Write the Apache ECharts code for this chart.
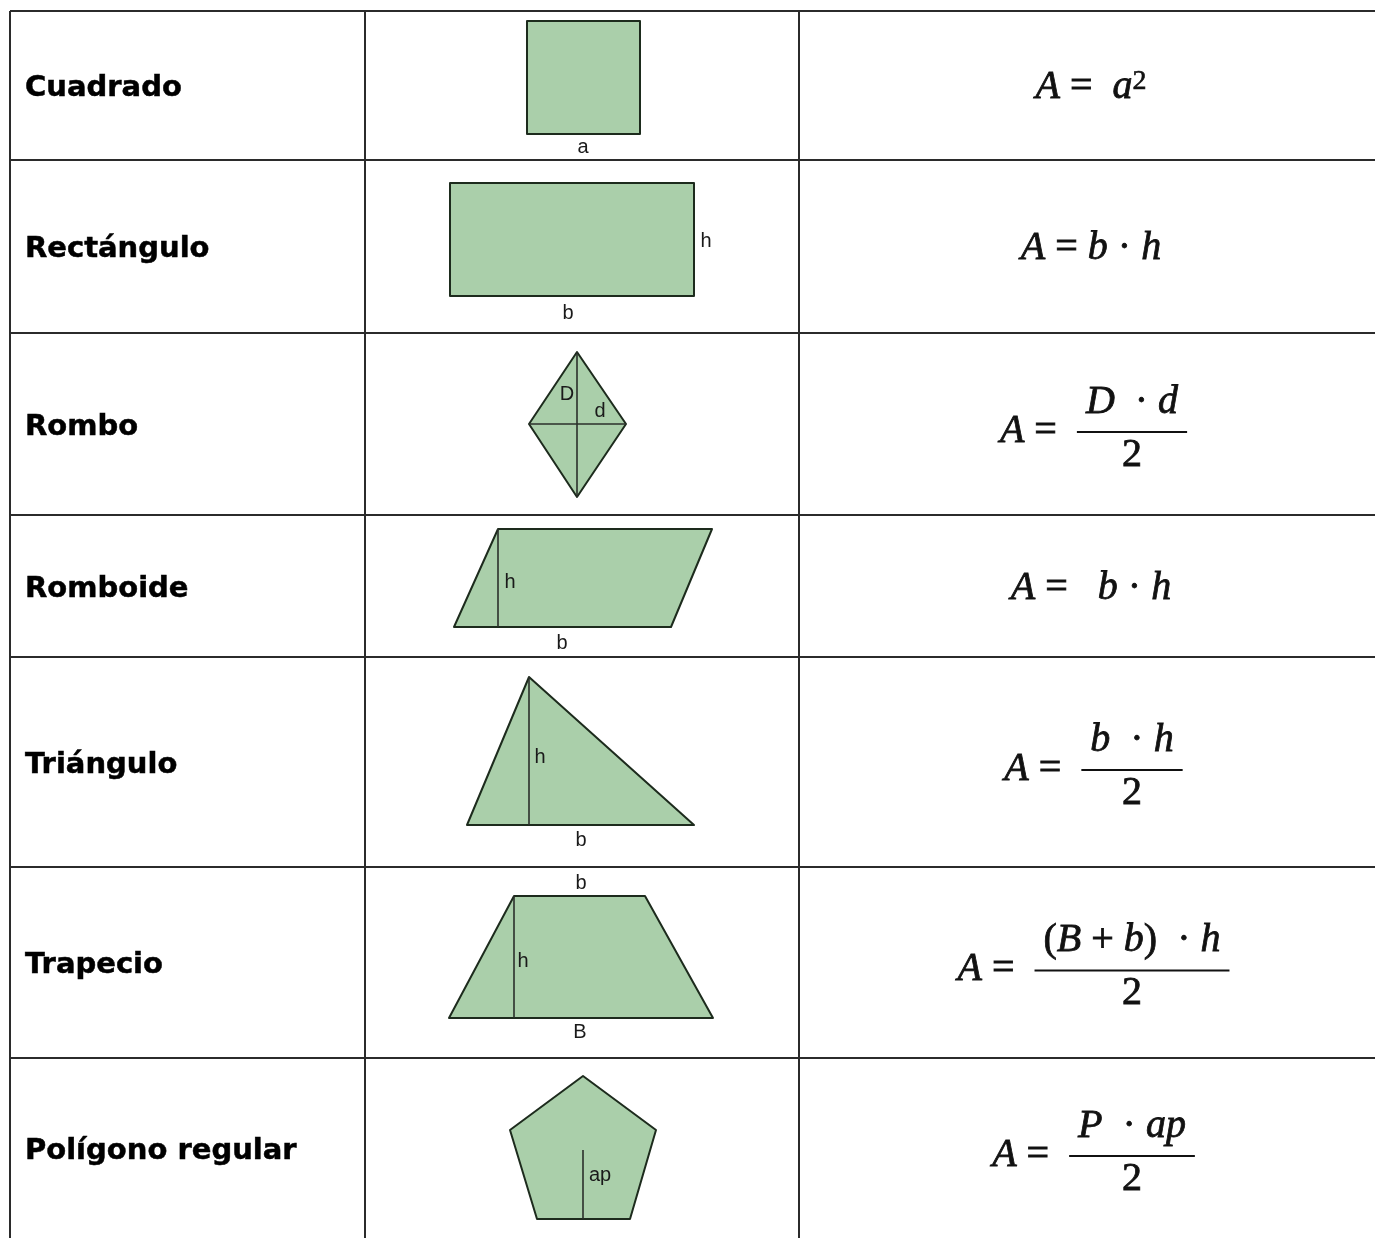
<!DOCTYPE html>
<html>
<head>
<meta charset="UTF-8" />
<title>Áreas de figuras planas</title>
<style type="text/css">
body,html{margin:0;padding:0;border:0;width:100%;height:100%;overflow:hidden;background:#fff;}
</style>
<script src="https://cdn.jsdelivr.net/npm/echarts@6/dist/echarts.min.js"></script>
</head>
<body>
<div id="chartContainer" style="width:1375px;height:1238px;"></div>
<script type="text/javascript">
// table rows / columns (page units, y grows downwards)
var rowNames = ['Cuadrado', 'Rectángulo', 'Rombo', 'Romboide', 'Triángulo', 'Trapecio', 'Polígono regular'];
var rowLines = [11, 160, 333, 515, 657, 867, 1058, 1238];
var colLines = [10, 365, 799];

// shape outlines, one per row
var shapePolys = [
    [[527, 21], [640, 21], [640, 134], [527, 134]],
    [[450, 183], [694, 183], [694, 296], [450, 296]],
    [[577, 352], [626, 424], [577, 497], [529, 424]],
    [[498, 529], [712, 529], [671, 627], [454, 627]],
    [[529, 677], [694, 825], [467, 825]],
    [[514, 896], [645, 896], [713, 1018], [449, 1018]],
    [[583, 1076], [656, 1130], [630, 1219], [537, 1219], [510, 1130]]
];
// diagonals / heights drawn inside the shapes
var shapeGuides = [
    [577, 352, 577, 497],
    [529, 424, 626, 424],
    [498, 529, 498, 627],
    [529, 677, 529, 825],
    [514, 896, 514, 1018],
    [583, 1150, 583, 1219]
];
// letters next to the shapes
var shapeLabels = [
    [583, 147, 'a'], [706, 241, 'h'], [568, 313, 'b'],
    [567, 394, 'D'], [600, 411, 'd'],
    [510, 582, 'h'], [562, 643, 'b'],
    [540, 757, 'h'], [581, 840, 'b'],
    [581, 883, 'b'], [523, 961, 'h'], [580, 1032, 'B'],
    [600, 1175, 'ap']
];

// formulas: left part, numerator, denominator (null = no fraction)
var formulaLeft = ['{i|A} =  {i|a}{s|2}', '{i|A} = {i|b} · {i|h}', '{i|A} =', '{i|A} =   {i|b} · {i|h}', '{i|A} =', '{i|A} =', '{i|A} ='];
var formulaNum = [null, null, '{i|D}  · {i|d}', null, '{i|b}  · {i|h}', '({i|B} + {i|b})  · {i|h}', '{i|P}  · {i|ap}'];
var formulaDen = [null, null, '2', null, '2', '2', '2'];

var MATH_FONT = 'Liberation Serif', MATH_SIZE = 40;
var mathRich = {
    i: { fontStyle: 'italic', fontFamily: MATH_FONT, fontSize: MATH_SIZE, fill: '#111', stroke: '#111', lineWidth: 0.8 },
    s: { fontFamily: MATH_FONT, fontSize: 28, fill: '#111', stroke: '#111', lineWidth: 0.6, verticalAlign: 'top' }
};

var measureCtx = document.createElement('canvas').getContext('2d');
function richWidth(str)
{
    var w = 0;
    str.replace(/\{(\w+)\|([^}]*)\}|([^{]+)/g, function (m, key, seg, plain) {
        if (key) {
            var st = mathRich[key];
            measureCtx.font = (st.fontStyle || 'normal') + ' ' + st.fontSize + 'px "' + MATH_FONT + '"';
            w += measureCtx.measureText(seg).width;
        } else {
            measureCtx.font = MATH_SIZE + 'px "' + MATH_FONT + '"';
            w += measureCtx.measureText(plain).width;
        }
        return m;
    });
    return w;
}

var tableSegs = [];
rowLines.slice(0, rowLines.length - 1).forEach(function (y) { tableSegs.push([colLines[0], y, 1375, y]); });
colLines.forEach(function (x) { tableSegs.push([x, rowLines[0], x, rowLines[rowLines.length - 1]]); });

function mathText(str, pos, align)
{
    return {
        type: 'text',
        style: {
            text: str, x: pos[0], y: pos[1], align: align, verticalAlign: 'middle',
            fontFamily: MATH_FONT, fontSize: MATH_SIZE, fill: '#111',
            stroke: '#111', lineWidth: 0.8, rich: mathRich
        }
    };
}

var option = {
    animation: false,
    backgroundColor: '#ffffff',
    grid: { left: 0, right: 0, top: 0, bottom: 0 },
    xAxis: { type: 'value', min: 0, max: 1375, show: false },
    yAxis: { type: 'value', min: 0, max: 1238, inverse: true, show: false },
    series: [
        {
            type: 'custom', name: 'tabla', clip: false,
            data: tableSegs, encode: { x: [0, 2], y: [1, 3] },
            renderItem: function (params, api) {
                var a = api.coord([api.value(0), api.value(1)]);
                var b = api.coord([api.value(2), api.value(3)]);
                return {
                    type: 'line',
                    shape: { x1: a[0], y1: a[1], x2: b[0], y2: b[1] },
                    style: { stroke: '#2b2b2b', lineWidth: 2 }
                };
            }
        },
        {
            type: 'custom', name: 'nombres', clip: false,
            data: rowNames.map(function (n, i) { return [25, (rowLines[i] + rowLines[i + 1]) / 2 + 3]; }),
            encode: { x: 0, y: 1 },
            renderItem: function (params, api) {
                var p = api.coord([api.value(0), api.value(1)]);
                return {
                    type: 'text',
                    style: {
                        text: rowNames[params.dataIndex], x: p[0], y: p[1],
                        align: 'left', verticalAlign: 'middle',
                        fontFamily: 'DejaVu Sans', fontWeight: 'bold', fontSize: 29, fill: '#000',
                        stroke: '#000', lineWidth: 0.5
                    }
                };
            }
        },
        {
            type: 'custom', name: 'figuras', clip: false,
            data: shapePolys.map(function (p) { return [p[0][0], p[0][1]]; }),
            encode: { x: 0, y: 1 },
            renderItem: function (params, api) {
                var pts = shapePolys[params.dataIndex].map(function (v) { return api.coord(v); });
                return {
                    type: 'polygon',
                    shape: { points: pts },
                    style: { fill: '#aacfaa', stroke: '#1d2b1d', lineWidth: 2, lineJoin: 'round' }
                };
            }
        },
        {
            type: 'custom', name: 'alturas', clip: false,
            data: shapeGuides, encode: { x: [0, 2], y: [1, 3] },
            renderItem: function (params, api) {
                var a = api.coord([api.value(0), api.value(1)]);
                var b = api.coord([api.value(2), api.value(3)]);
                return {
                    type: 'line',
                    shape: { x1: a[0], y1: a[1], x2: b[0], y2: b[1] },
                    style: { stroke: '#2a2f2a', lineWidth: 1.6 }
                };
            }
        },
        {
            type: 'custom', name: 'letras', clip: false,
            data: shapeLabels, encode: { x: 0, y: 1 },
            renderItem: function (params, api) {
                var p = api.coord([api.value(0), api.value(1)]);
                return {
                    type: 'text',
                    style: {
                        text: shapeLabels[params.dataIndex][2], x: p[0], y: p[1],
                        align: 'center', verticalAlign: 'middle',
                        fontFamily: 'Liberation Sans', fontSize: 20, fill: '#1a1a1a'
                    }
                };
            }
        },
        {
            type: 'custom', name: 'formulas', clip: false,
            data: formulaLeft.map(function (f, i) { return [1091, (rowLines[i] + rowLines[i + 1]) / 2]; }),
            encode: { x: 0, y: 1 },
            renderItem: function (params, api) {
                var i = params.dataIndex, cx = api.value(0), mid = api.value(1);
                if (!formulaNum[i]) {
                    return mathText(formulaLeft[i], api.coord([cx, mid + 2]), 'center');
                }
                var fx = 1132, bar = mid + 8;
                var half = (richWidth(formulaNum[i]) + 18) / 2;
                var l = api.coord([fx - half, bar]), r = api.coord([fx + half, bar]);
                return {
                    type: 'group',
                    children: [
                        mathText(formulaLeft[i], api.coord([fx - half - 20, bar - 1]), 'right'),
                        mathText(formulaNum[i], api.coord([fx, bar - 30]), 'center'),
                        mathText(formulaDen[i], api.coord([fx, bar + 23]), 'center'),
                        {
                            type: 'line',
                            shape: { x1: l[0], y1: l[1], x2: r[0], y2: r[1] },
                            style: { stroke: '#111', lineWidth: 2 }
                        }
                    ]
                };
            }
        }
    ]
};

var chart = echarts.init(document.getElementById('chartContainer'));
chart.setOption(option);
</script>
</body>
</html>
